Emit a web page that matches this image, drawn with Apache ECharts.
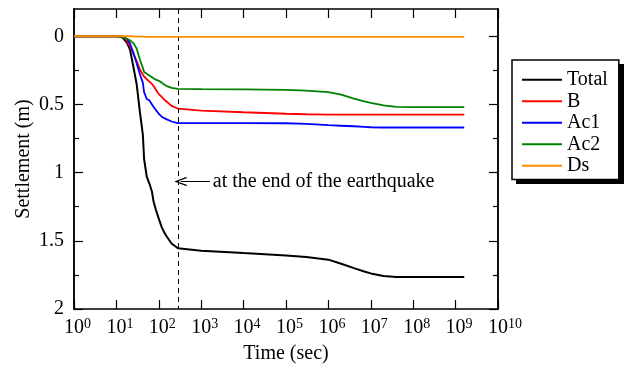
<!DOCTYPE html>
<html>
<head>
<meta charset="utf-8">
<script src="https://cdn.jsdelivr.net/npm/echarts@6/dist/echarts.min.js"></script>
<style>
  html, body { margin: 0; padding: 0; background: #fff; }
  #chart { width: 626px; height: 369px; }
</style>
</head>
<body>
<div id="chart"></div>
<script>
// time (sec)
var times = [1, 10, 14, 18, 21, 25, 30, 36, 42, 45, 52, 60, 69, 75, 85, 98, 117, 135, 155, 200, 282,
    1e3, 1e4, 1e5, 3e5, 1e6, 2e6, 4e6, 7e6, 1e7, 2e7, 4e7, 1e8, 1e9, 1.6e9];

// settlement (m)
var total = [0, 0, 0.01, 0.05, 0.10, 0.22, 0.35, 0.56, 0.72, 0.90, 1.03, 1.08, 1.14, 1.21, 1.27, 1.33, 1.40, 1.44, 1.47, 1.52, 1.555,
    1.572, 1.59, 1.607, 1.618, 1.638, 1.668, 1.70, 1.725, 1.739, 1.758, 1.765, 1.765, 1.765, 1.765];
var layerB = [0, 0, 0.003, 0.035, 0.075, 0.125, 0.18, 0.246, 0.28, 0.295, 0.315, 0.333, 0.35, 0.365, 0.39, 0.42, 0.445, 0.465, 0.48, 0.51, 0.53,
    0.545, 0.557, 0.568, 0.572, 0.574, 0.575, 0.575, 0.575, 0.575, 0.575, 0.575, 0.575, 0.575, 0.575];
var layerAc1 = [0, 0, 0.003, 0.02, 0.053, 0.12, 0.198, 0.28, 0.34, 0.41, 0.46, 0.47, 0.50, 0.512, 0.54, 0.565, 0.59, 0.60, 0.609, 0.625, 0.637,
    0.637, 0.637, 0.638, 0.642, 0.652, 0.656, 0.66, 0.664, 0.667, 0.669, 0.669, 0.669, 0.669, 0.669];
var layerAc2 = [0, 0, 0.005, 0.02, 0.03, 0.05, 0.09, 0.174, 0.23, 0.262, 0.275, 0.288, 0.30, 0.31, 0.318, 0.325, 0.34, 0.355, 0.365, 0.378, 0.386,
    0.388, 0.39, 0.393, 0.398, 0.41, 0.428, 0.457, 0.478, 0.488, 0.507, 0.518, 0.52, 0.52, 0.52];
var layerDs = [0, 0, 0, 0, 0, 0.001, 0.002, 0.003, 0.003, 0.003, 0.004, 0.004, 0.004, 0.004, 0.004, 0.004, 0.004, 0.004, 0.004, 0.004, 0.004,
    0.004, 0.004, 0.004, 0.004, 0.004, 0.004, 0.004, 0.004, 0.004, 0.004, 0.004, 0.004, 0.004, 0.004];

var names = ['Total', 'B', 'Ac1', 'Ac2', 'Ds'];
var colors = ['#000000', '#ff0000', '#0000ff', '#008000', '#ff8c00'];
var yMajor = [0, 0.5, 1, 1.5, 2];
var yMinor = [0.25, 0.75, 1.25, 1.75];
var quakeEnd = 282;

var FONT = 'Liberation Serif';

function pairs(vals) {
    return times.map(function (t, i) { return [t, vals[i]]; });
}

function yAxisOf(pos, ticks, len, withLabel) {
    return {
        type: 'value', inverse: true, min: -0.2, max: 2, position: pos,
        name: withLabel ? 'Settlement (m)' : '',
        nameLocation: 'middle', nameGap: 40, nameMoveOverlap: false,
        nameTextStyle: { fontFamily: FONT, fontSize: 20, color: '#000' },
        axisLine: { show: true, onZero: false, lineStyle: { color: '#000', width: 1.5 } },
        axisTick: { show: true, inside: true, length: len, customValues: ticks, lineStyle: { color: '#000', width: 1.2 } },
        axisLabel: withLabel ? {
            show: true, customValues: yMajor, margin: 10,
            fontFamily: FONT, fontSize: 20, color: '#000',
            formatter: function (v) { return String(v); }
        } : { show: false },
        splitLine: { show: false }
    };
}

function xAxisOf(pos, withLabel) {
    return {
        type: 'log', logBase: 10, min: 1, max: 1e10, interval: 1, splitNumber: 10, position: pos,
        name: withLabel ? 'Time (sec)' : '',
        nameLocation: 'middle', nameGap: 35, nameMoveOverlap: false,
        nameTextStyle: { fontFamily: FONT, fontSize: 20, color: '#000' },
        axisLine: { show: true, onZero: false, lineStyle: { color: '#000', width: 1.5 } },
        axisTick: { show: true, inside: true, length: 9, lineStyle: { color: '#000', width: 1.2 } },
        axisLabel: withLabel ? {
            show: true, margin: 8,
            formatter: function (v) {
                var n = Math.round(Math.log10(v));
                var pad = n >= 10 ? 'p2' : 'p1';
                return '{' + pad + '|}{b|10}{s|' + n + '}';
            },
            rich: {
                b: { fontFamily: FONT, fontSize: 20, color: '#000', lineHeight: 22 },
                s: { fontFamily: FONT, fontSize: 14, color: '#000', verticalAlign: 'top', lineHeight: 14 },
                p1: { width: 7 },
                p2: { width: 14 }
            }
        } : { show: false },
        splitLine: { show: false }
    };
}

var chart = echarts.init(document.getElementById('chart'), null, { renderer: 'canvas' });

var series = [total, layerB, layerAc1, layerAc2, layerDs].map(function (vals, i) {
    return {
        name: names[i], type: 'line', data: pairs(vals),
        xAxisIndex: 0, yAxisIndex: 0,
        symbol: 'none', smooth: false,
        lineStyle: { color: colors[i], width: i === 0 ? 2 : 1.8 },
        itemStyle: { color: colors[i] },
        z: 2 + i
    };
});

series[0].markLine = {
    silent: true, animation: false,
    symbol: ['none', 'none'],
    label: { show: false },
    data: [
        [
            { coord: [quakeEnd, -0.2], lineStyle: { color: '#000', width: 1, type: [5, 4] } },
            { coord: [quakeEnd, 2] }
        ],
        [
            {
                coord: [330, 1.065], symbol: 'path://M5,0 L10,9 L9,10 L5,2.5 L1,10 L0,9 Z', symbolSize: [9, 13],
                lineStyle: { color: '#000', width: 1, type: 'solid' },
                label: {
                    show: true, position: 'end', distance: 3, formatter: 'at the end of the earthquake',
                    fontFamily: FONT, fontSize: 20, color: '#000'
                }
            },
            { coord: [1600, 1.065], symbol: 'none' }
        ]
    ]
};

chart.setOption({
    animation: false,
    backgroundColor: '#fff',
    grid: { left: 74, right: 128, top: 9, bottom: 58, containLabel: false },
    graphic: [{
        type: 'rect', z: 0, silent: true,
        shape: { x: 516, y: 64, width: 108, height: 120 },
        style: { fill: '#000' }
    }],
    legend: {
        orient: 'vertical', left: 512, top: 60, z: 5,
        padding: [9, 11, 3, 10],
        icon: 'rect', itemWidth: 40, itemHeight: 2, itemGap: 0,
        data: names,
        textStyle: { fontFamily: FONT, fontSize: 20, color: '#000', lineHeight: 21.5 },
        backgroundColor: '#fff', borderColor: '#000', borderWidth: 1.5, borderRadius: 0
    },
    xAxis: [xAxisOf('bottom', true), xAxisOf('top', false)],
    yAxis: [
        yAxisOf('left', yMajor, 9, true),
        yAxisOf('left', yMinor, 5, false),
        yAxisOf('right', yMajor, 9, false),
        yAxisOf('right', yMinor, 5, false)
    ],
    series: series
});
</script>
</body>
</html>
